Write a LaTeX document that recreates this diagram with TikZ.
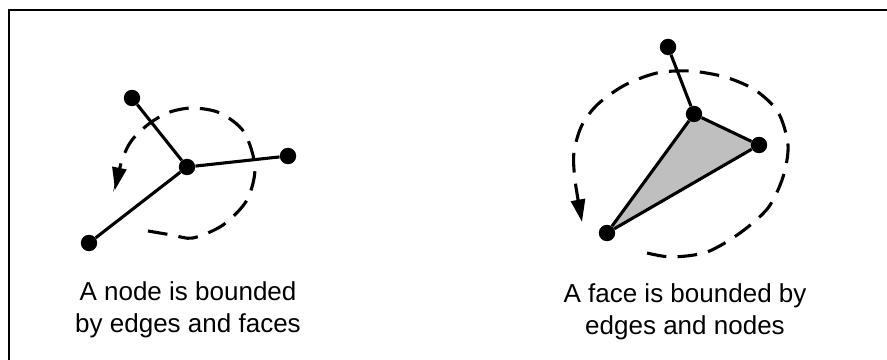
\documentclass[tikz,border=0pt]{standalone}
\usepackage{fontspec}
\setmainfont{Liberation Sans}
\usetikzlibrary{arrows.meta,backgrounds}

\begin{document}
\begin{tikzpicture}[x=0.25mm, y=-0.25mm,
  dot/.style={circle, fill=black, inner sep=0pt, minimum width=3.8mm, minimum height=4.1mm},
  edge/.style={line width=2.2pt},
  tour/.style={line width=2.2pt, dash pattern=on 14pt off 8pt, -{Triangle[length=16pt,width=10pt]}},
  face/.style={fill=black!25},
  caption/.style={font=\fontsize{18.5}{22.75}\selectfont, align=center, inner sep=0pt},
]
  \clip (0,0) rectangle (887,360);
  \draw[line width=1.6pt] (9,380) -- (9,10) -- (900,10);

  % node bounded by edges and faces
  \node[dot] (na) at (132,98) {};
  \node[dot] (nc) at (187,167) {};
  \node[dot] (nr) at (288,156) {};
  \node[dot] (nb) at (89,243) {};
  \draw[edge] (na) -- (nc);
  \draw[edge] (nc) -- (nr);
  \draw[edge] (nc) -- (nb);
  \draw[tour] plot[smooth] coordinates {(148,231) (172,235) (193,238) (223,225) (247,200) (255,167) (244,132) (220,113) (193,108) (170,112) (150,123) (132,140) (122,160) (115,190)};
  \node[caption] (ncap) at (188,310) {A node is bounded\\by edges and faces};

  % face bounded by edges and nodes
  \node[dot] (fa) at (668,47) {};
  \node[dot] (fc) at (694,114) {};
  \node[dot] (fr) at (759,145) {};
  \node[dot] (fb) at (607,233) {};
  \begin{scope}[on background layer]
    \fill[face] (fc.center) -- (fr.center) -- (fb.center) -- cycle;
  \end{scope}
  \draw[edge] (fa) -- (fc);
  \draw[edge] (fc) -- (fr);
  \draw[edge] (fr) -- (fb);
  \draw[edge] (fb) -- (fc);
  \draw[tour] plot[smooth] coordinates {(647,253) (672,257) (707,252) (740,233) (768,208) (783,177) (788,145) (778,112) (755,90) (725,77) (690,71) (657,73) (625,85) (598,104) (582,125) (574,152) (575,180) (582,222)};
  \node[caption] (fcap) at (685,312) {A face is bounded by\\edges and nodes};
\end{tikzpicture}
\end{document}
